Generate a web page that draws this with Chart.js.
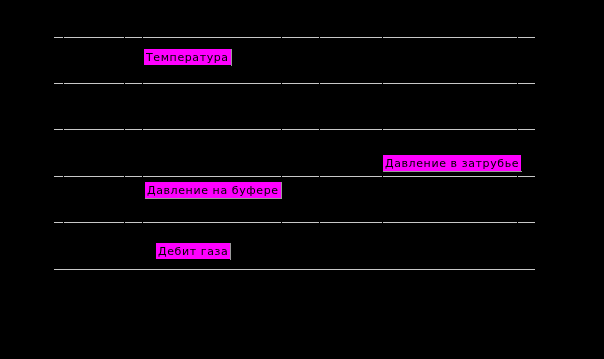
<!DOCTYPE html>
<html lang="ru">
<head>
    <meta charset="UTF-8">
    <title>Параметры скважины</title>
    <script src="https://cdn.jsdelivr.net/npm/chart.js"></script>
    <style>
        html, body {
            margin: 0;
            padding: 0;
            background-color: #000000;
        }
        .chart-box {
            width: 604px;
            height: 359px;
        }
    </style>
</head>
<body>
    <div class="chart-box">
        <canvas id="wellChart" width="604" height="359"></canvas>
    </div>

    <script>
        // Подписи серий и места их плашек (x в % времени, y в делениях шкалы)
        const seriesNames = ['Температура', 'Давление на буфере', 'Давление в затрубье', 'Дебит газа'];
        const labelX = [18.7, 18.9, 68.4, 21.2];
        const labelY = [4.74, 1.87, 2.46, 0.56];
        const labelShadow = ['right', 'both', 'bottom', 'right'];

        // Деления шкал
        const yTicks = [0, 1, 2, 3, 4, 5];
        const xTicks = [1.9, 14.6, 18.3, 47.4, 55.1, 68.2, 96.3];

        // Плашки с названиями серий
        const seriesLabels = {
            id: 'seriesLabels',
            afterDraw(chart) {
                const ctx = chart.ctx;
                const xs = chart.scales.x;
                const ys = chart.scales.y;
                ctx.save();
                ctx.font = '11px "DejaVu Sans", sans-serif';
                ctx.letterSpacing = '0.6px';
                ctx.textBaseline = 'middle';
                seriesNames.forEach((name, i) => {
                    const left = Math.round(xs.getPixelForValue(labelX[i]));
                    const top = Math.round(ys.getPixelForValue(labelY[i]));
                    const w = Math.round(ctx.measureText(name).width) + 4;
                    const h = 16;
                    ctx.fillStyle = '#ff00ff';
                    ctx.fillRect(left, top, w, h);
                    ctx.fillStyle = '#000000';
                    ctx.fillText(name, left + 2, top + h / 2 + 1);
                    ctx.fillStyle = '#9a9a9a';
                    if (labelShadow[i] === 'right' || labelShadow[i] === 'both') {
                        ctx.fillRect(left + w, top, 1, h + 1);
                    }
                    if (labelShadow[i] === 'bottom' || labelShadow[i] === 'both') {
                        ctx.fillRect(left, top + h, w + 1, 1);
                    }
                });
                ctx.restore();
            }
        };

        const chart = new Chart(document.getElementById('wellChart'), {
            type: 'line',
            data: {
                datasets: seriesNames.map(name => ({
                    label: name,
                    data: [],
                    borderColor: '#000000',
                    borderWidth: 1,
                    pointRadius: 0
                }))
            },
            options: {
                responsive: false,
                animation: false,
                layout: {
                    padding: { left: 54, top: 37, right: 69, bottom: 90 }
                },
                plugins: {
                    legend: { display: false },
                    tooltip: { enabled: false }
                },
                scales: {
                    x: {
                        type: 'linear',
                        min: 0,
                        max: 100,
                        afterBuildTicks: axis => {
                            axis.ticks = xTicks.map(v => ({ value: v }));
                        },
                        ticks: { display: false },
                        border: { display: false },
                        grid: {
                            color: '#000000',
                            lineWidth: 1,
                            drawTicks: false,
                            z: 1
                        }
                    },
                    y: {
                        min: 0,
                        max: 5,
                        afterBuildTicks: axis => {
                            axis.ticks = yTicks.map(v => ({ value: v }));
                        },
                        ticks: { display: false },
                        border: { display: false },
                        grid: {
                            color: '#c8c8c8',
                            lineWidth: 1,
                            drawTicks: false
                        }
                    }
                }
            },
            plugins: [seriesLabels]
        });
    </script>
</body>
</html>
